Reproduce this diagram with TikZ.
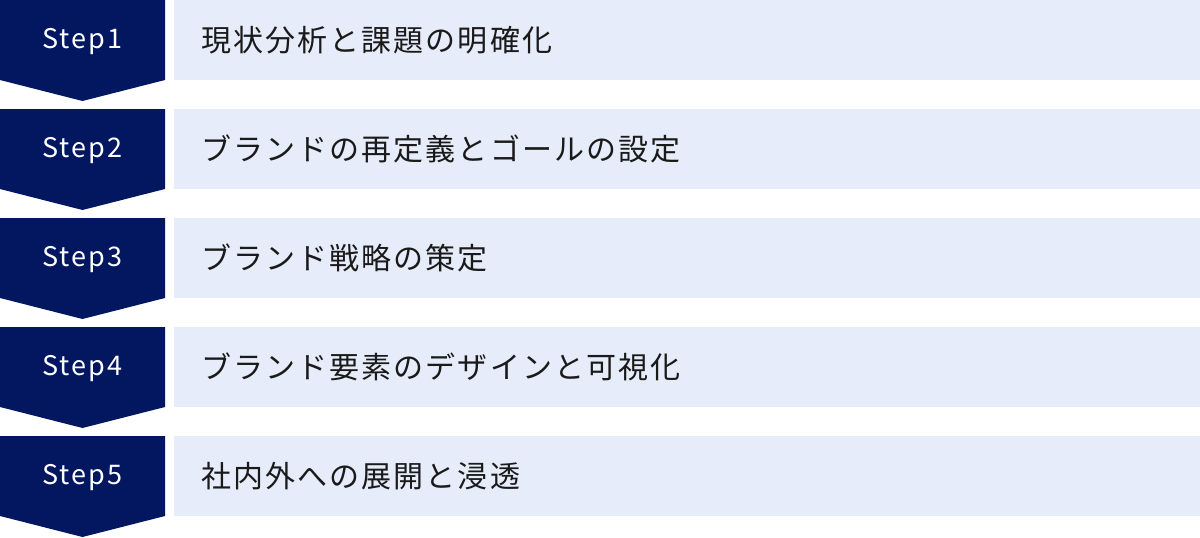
\documentclass[tikz,border=0pt]{standalone}
\usepackage{fontspec}
\newfontfamily\jp[LetterSpace=7]{Noto Sans CJK JP}
\newfontfamily\stepfont[LetterSpace=8]{Noto Sans CJK JP}
\definecolor{navy}{RGB}{3,23,96}
\definecolor{lightbox}{RGB}{230,236,249}
\definecolor{txt}{RGB}{26,26,26}
\tikzset{
  chev/.style={fill=navy, draw=none},
  bodybox/.style={fill=lightbox, draw=none},
  steplabel/.style={text=white, font=\stepfont\fontsize{27}{32}\selectfont, inner sep=0pt, anchor=center},
  itemlabel/.style={text=txt, font=\jp\fontsize{30}{36}\selectfont, inner sep=0pt, anchor=west}
}
\begin{document}
\begin{tikzpicture}[x=1pt,y=-1pt]
\useasboundingbox (0,0) rectangle (1200,538);
\foreach \i/\lab in {1/現状分析と課題の明確化,2/ブランドの再定義とゴールの設定,3/ブランド戦略の策定,4/ブランド要素のデザインと可視化,5/社内外への展開と浸透}{
  \pgfmathsetmacro{\r}{(\i-1)*109}
  \fill[chev] (0,\r) -- (165,\r) -- (165,\r+80) -- (82.5,\r+101) -- (0,\r+80) -- cycle;
  \node[steplabel] (s\i) at (82.5,\r+42) {Step\i};
  \node[bodybox, minimum width=1026pt, minimum height=80pt, inner sep=0pt, anchor=north west] (b\i) at (174,\r) {};
  \node[itemlabel] (t\i) at (201,\r+40) {\lab};
}
\end{tikzpicture}
\end{document}
